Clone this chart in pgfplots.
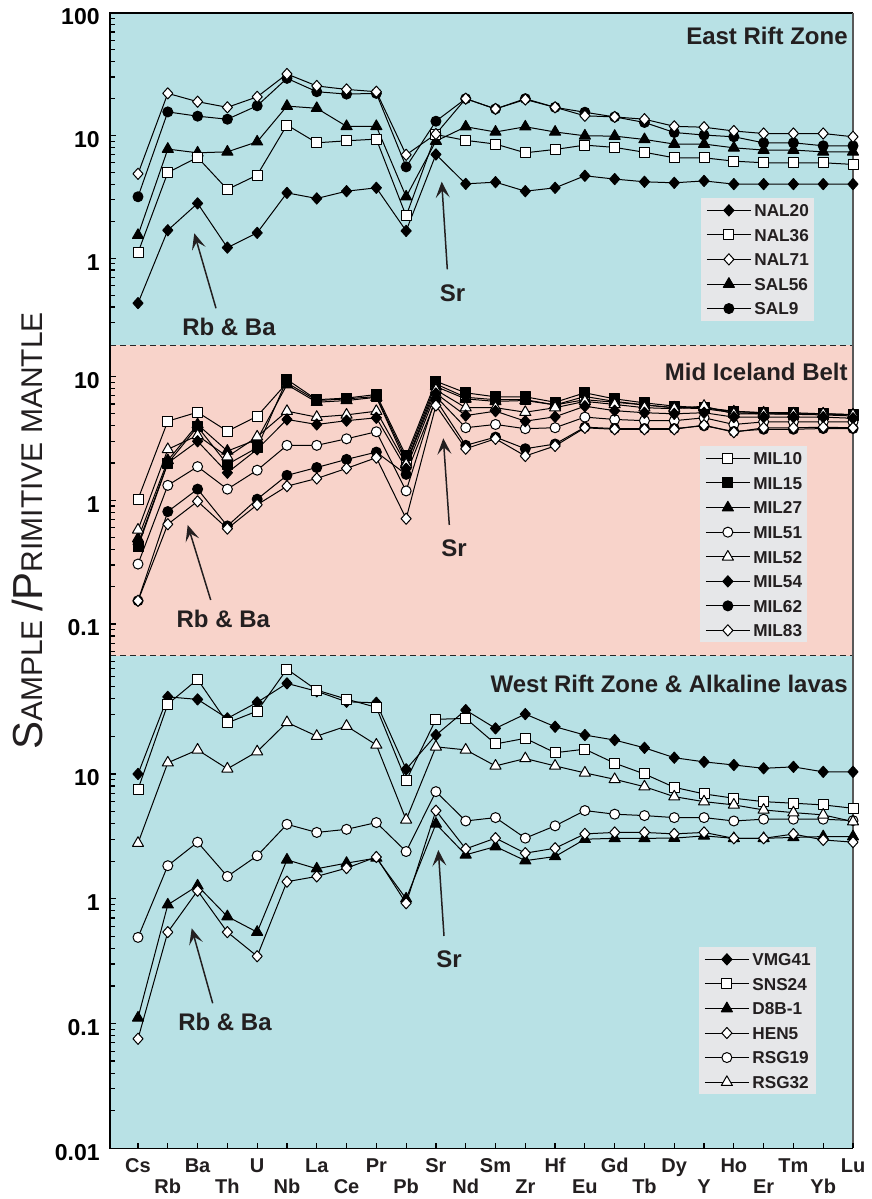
\documentclass[border=0pt]{standalone}
\usepackage{fontspec}
\setmainfont{Liberation Sans}
\usepackage{pgfplots}
\pgfplotsset{compat=1.18}
\usetikzlibrary{arrows.meta}

\definecolor{cyanbg}{HTML}{B8E1E5}
\definecolor{pinkbg}{HTML}{F8D3CA}
\definecolor{legbg}{HTML}{E6E7E9}
\definecolor{txt}{HTML}{231F20}

\newcommand\tickfont{\fontsize{11.5pt}{12pt}\selectfont\bfseries}
\newcommand\elfont{\fontsize{10pt}{10pt}\selectfont\bfseries}
\newcommand\legfont{\fontsize{8.6pt}{9pt}\selectfont\bfseries}
\newcommand\titfont{\fontsize{12pt}{12pt}\selectfont\bfseries}
\newcommand\ylbig{\fontsize{21pt}{21pt}\selectfont}
\newcommand\ylsml{\fontsize{15pt}{15pt}\selectfont}
\newcommand\LE[1]{{\legfont\textbf{#1}}}

\pgfplotsset{
  mk/.style={black, line width=0.5pt, line join=round},
  fdia/.style={mk, mark=diamond*, mark size=2.8pt, mark options={solid, draw=black, fill=black, line width=0.5pt, xscale=1.2}},
  odia/.style={mk, mark=diamond*, mark size=2.8pt, mark options={solid, draw=black, fill=white, line width=0.5pt, xscale=1.2}},
  osq/.style={mk, mark=square*, mark size=2.5pt, mark options={solid, draw=black, fill=white, line width=0.5pt}},
  fsq/.style={mk, mark=square*, mark size=2.5pt, mark options={solid, draw=black, fill=black, line width=0.5pt}},
  ftri/.style={mk, mark=triangle*, mark size=3.2pt, mark options={solid, draw=black, fill=black, line width=0.5pt}},
  otri/.style={mk, mark=triangle*, mark size=3.2pt, mark options={solid, draw=black, fill=white, line width=0.5pt}},
  fcir/.style={mk, mark=*, mark size=2.5pt, mark options={solid, draw=black, fill=black, line width=0.5pt}},
  ocir/.style={mk, mark=*, mark size=2.5pt, mark options={solid, draw=black, fill=white, line width=0.5pt}},
  legend image code/.code={\draw[mark repeat=2, mark phase=2, #1] plot coordinates {(0pt,0pt) (11pt,0pt) (22pt,0pt)};},
}
\pgfplotsset{
  scale only axis, width=371.5pt, xmin=-0.94, xmax=24,
  axis line style={draw=none},
  ytick pos=left, xtick pos=bottom,
  tick style={black, line width=0.6pt},
  major tick length=2.8pt, minor tick length=2.3pt,
  yticklabel style={font=\tickfont, text=black, anchor=east, inner sep=0pt, xshift=-5pt, yshift=-2pt},
  clip=false,
  legend cell align=left,
  legend style={fill=legbg, draw=none, font=\legfont, text=txt, inner xsep=2.5pt, inner ysep=2.9pt,
    row sep=6.05pt, column sep=1.5pt, anchor=north west,
    nodes={font=\legfont, text=txt, inner sep=0pt, text height=6.2pt, text depth=0pt}},
}

\begin{document}
\begin{tikzpicture}
\path[use as bounding box] (0,0) rectangle (436pt,599.5pt);

% panel backgrounds, frame and separators (pixel coordinates)
\begin{scope}[x=0.5pt, y=-0.5pt, yshift=599.5pt]
  \fill[cyanbg] (110,13) rectangle (853,345.5);
  \fill[pinkbg] (110,345.5) rectangle (853,656);
  \fill[cyanbg] (110,656) rectangle (853,1148.3);
  \draw[black!85, line width=0.5pt, dash pattern=on 3pt off 2pt] (110,345.5) -- (853,345.5);
  \draw[black!85, line width=0.5pt, dash pattern=on 3pt off 2pt] (110,656) -- (853,656);
  \draw[black, line width=0.7pt] (853,13) -- (110,13) -- (110,1148.3) -- (853,1148.3);
  \draw[black!65, line width=0.7pt] (853,13) -- (853,1148.3);
\end{scope}

%================ East Rift Zone =================
\begin{semilogyaxis}[anchor=south west, at={(55pt,427pt)}, height=166pt,
  ymin=0.196, ymax=100,
  ytick={1,10,100}, yticklabels={1,10,100},
  minor ytick={0.3,0.4,0.5,0.6,0.7,0.8,0.9,2,3,4,5,6,7,8,9,20,30,40,50,60,70,80,90},
  xtick=\empty,
  legend style={at={(0.7954,0.4428)}}]
\addlegendimage{fdia}\addlegendentry{\LE{NAL20}}
\addlegendimage{osq}\addlegendentry{\LE{NAL36}}
\addlegendimage{odia}\addlegendentry{\LE{NAL71}}
\addlegendimage{ftri}\addlegendentry{\LE{SAL56}}
\addlegendimage{fcir}\addlegendentry{\LE{SAL9}}
% SAL9
\addplot[fcir, forget plot] table[x expr=\coordindex, y index=0, header=false, row sep=\\]
{3.17\\15.6\\14.4\\13.6\\17.5\\29.3\\22.8\\21.8\\22.1\\5.56\\13.1\\20.0\\16.5\\20.0\\17.0\\15.5\\14.2\\12.8\\10.6\\10.1\\9.78\\8.73\\8.73\\8.26\\8.26\\};
% SAL56
\addplot[ftri, forget plot] table[x expr=\coordindex, y index=0, header=false, row sep=\\]
{1.54\\7.76\\7.24\\7.37\\8.9\\17.4\\16.7\\11.9\\11.9\\3.17\\9.02\\11.8\\10.7\\11.8\\10.7\\9.96\\9.9\\9.3\\8.53\\8.53\\7.95\\7.62\\7.62\\7.37\\7.37\\};
% NAL36
\addplot[osq, forget plot] table[x expr=\coordindex, y index=0, header=false, row sep=\\]
{1.11\\5.0\\6.64\\3.64\\4.76\\12.2\\8.73\\9.07\\9.36\\2.21\\10.2\\9.14\\8.53\\7.24\\7.71\\8.36\\8.01\\7.31\\6.59\\6.59\\6.19\\6.0\\6.0\\6.0\\5.82\\};
% NAL20
\addplot[fdia, forget plot] table[x expr=\coordindex, y index=0, header=false, row sep=\\]
{0.43\\1.69\\2.8\\1.22\\1.61\\3.41\\3.07\\3.52\\3.75\\1.67\\7.02\\4.04\\4.17\\3.52\\3.75\\4.7\\4.42\\4.2\\4.12\\4.27\\4.02\\4.02\\4.02\\4.02\\4.02\\};
% NAL71
\addplot[odia, forget plot] table[x expr=\coordindex, y index=0, header=false, row sep=\\]
{4.88\\22.1\\18.9\\17.0\\20.7\\31.8\\25.4\\23.8\\22.8\\6.97\\10.3\\20.0\\16.5\\19.7\\17.0\\14.5\\14.2\\13.6\\11.9\\11.7\\10.9\\10.4\\10.4\\10.4\\9.78\\};
\end{semilogyaxis}

%================ Mid Iceland Belt =================
\begin{semilogyaxis}[anchor=south west, at={(55pt,271.5pt)}, height=155.5pt,
  ymin=0.0551, ymax=18,
  ytick={0.1,1,10}, yticklabels={0.1,1,10},
  minor ytick={0.06,0.07,0.08,0.09,0.2,0.3,0.4,0.5,0.6,0.7,0.8,0.9,2,3,4,5,6,7,8,9},
  xtick=\empty,
  legend style={at={(0.794,0.675)}}]
\addplot[osq] table[x expr=\coordindex, y index=0, header=false, row sep=\\]
{1.02\\4.36\\5.15\\3.62\\4.78\\8.9\\6.4\\6.6\\6.9\\2.15\\8.7\\6.8\\6.5\\6.5\\5.9\\6.9\\6.3\\5.9\\5.6\\5.5\\5.1\\5.0\\4.95\\4.9\\4.8\\};
\addlegendentry{\LE{MIL10}}
\addplot[fsq] table[x expr=\coordindex, y index=0, header=false, row sep=\\]
{0.42\\1.99\\3.93\\1.95\\2.66\\9.46\\6.5\\6.7\\7.16\\2.28\\9.16\\7.39\\6.86\\6.86\\6.2\\7.39\\6.6\\6.13\\5.77\\5.6\\5.25\\5.1\\5.1\\5.0\\4.94\\};
\addlegendentry{\LE{MIL15}}
\addplot[ftri] table[x expr=\coordindex, y index=0, header=false, row sep=\\]
{0.49\\2.1\\4.1\\2.5\\3.1\\8.6\\6.2\\6.4\\6.8\\2.0\\8.3\\6.6\\6.3\\6.4\\5.9\\6.5\\6.2\\5.9\\5.6\\5.6\\5.2\\5.1\\5.0\\5.0\\4.9\\};
\addlegendentry{\LE{MIL27}}
\addplot[ocir] table[x expr=\coordindex, y index=0, header=false, row sep=\\]
{0.305\\1.32\\1.87\\1.23\\1.75\\2.78\\2.78\\3.14\\3.58\\1.19\\6.9\\3.86\\4.1\\3.79\\3.86\\4.7\\4.5\\4.4\\4.4\\4.64\\4.1\\4.3\\4.3\\4.3\\4.3\\};
\addlegendentry{\LE{MIL51}}
\addplot[otri] table[x expr=\coordindex, y index=0, header=false, row sep=\\]
{0.576\\2.58\\3.34\\2.25\\3.26\\5.25\\4.7\\4.9\\5.25\\1.95\\7.8\\5.6\\5.6\\5.15\\5.6\\6.3\\5.95\\5.6\\5.5\\5.77\\5.0\\5.0\\5.0\\5.0\\4.9\\};
\addlegendentry{\LE{MIL52}}
\addplot[fdia] table[x expr=\coordindex, y index=0, header=false, row sep=\\]
{0.44\\2.0\\3.0\\1.67\\2.58\\4.5\\4.1\\4.4\\4.64\\1.8\\7.3\\4.84\\5.25\\4.36\\4.73\\5.76\\5.3\\5.1\\5.0\\5.1\\4.7\\4.7\\4.7\\4.7\\4.6\\};
\addlegendentry{\LE{MIL54}}
\addplot[fcir] table[x expr=\coordindex, y index=0, header=false, row sep=\\]
{0.154\\0.81\\1.23\\0.62\\1.02\\1.59\\1.84\\2.14\\2.45\\1.62\\6.5\\2.78\\3.24\\2.61\\2.85\\3.9\\3.8\\3.8\\3.8\\4.0\\3.6\\3.75\\3.75\\3.8\\3.8\\};
\addlegendentry{\LE{MIL62}}
\addplot[odia] table[x expr=\coordindex, y index=0, header=false, row sep=\\]
{0.154\\0.64\\0.98\\0.59\\0.92\\1.3\\1.5\\1.81\\2.21\\0.71\\5.84\\2.61\\3.14\\2.28\\2.75\\3.85\\3.75\\3.75\\3.75\\4.05\\3.55\\3.85\\3.85\\3.9\\3.85\\};
\addlegendentry{\LE{MIL83}}
\end{semilogyaxis}

%================ West Rift Zone =================
\begin{semilogyaxis}[anchor=south west, at={(55pt,25.35pt)}, height=246.15pt,
  ymin=0.01, ymax=88.2,
  ytick={0.01,0.1,1,10}, yticklabels={0.01,0.1,1,10},
  minor ytick={0.02,0.03,0.04,0.05,0.06,0.07,0.08,0.09,0.2,0.3,0.4,0.5,0.6,0.7,0.8,0.9,2,3,4,5,6,7,8,9,20,30,40,50,60,70,80},
  xtick={0,2,...,24},
  xticklabels={Cs,Ba,U,La,Pr,Sr,Sm,Hf,Gd,Dy,Ho,Tm,Lu},
  extra x ticks={1,3,...,23},
  extra x tick labels={Rb,Th,Nb,Ce,Pb,Nd,Zr,Eu,Tb,Y,Er,Yb},
  xticklabel style={font=\elfont, text=txt, anchor=base, inner sep=0pt, yshift=-12.2pt},
  extra x tick style={xticklabel style={yshift=-10.15pt}},
  legend style={at={(0.7927,0.409)}}]
\addplot[fdia] table[x expr=\coordindex, y index=0, header=false, row sep=\\]
{10\\41.5\\39.6\\27.9\\37.5\\53.2\\46\\37.9\\37.2\\10.9\\20.5\\32.5\\23.2\\30.2\\23.9\\20.5\\18.7\\16.2\\13.5\\12.5\\11.8\\11.1\\11.4\\10.4\\10.4\\};
\addlegendentry{\LE{VMG41}}
\addplot[osq] table[x expr=\coordindex, y index=0, header=false, row sep=\\]
{7.54\\36.3\\57.3\\25.7\\31.9\\69.2\\47\\39.8\\34.2\\8.85\\27.4\\27.9\\17.4\\19.3\\14.8\\15.8\\12.2\\10\\7.82\\6.92\\6.39\\6.0\\5.83\\5.65\\5.31\\};
\addlegendentry{\LE{SNS24}}
\addplot[ftri] table[x expr=\coordindex, y index=0, header=false, row sep=\\]
{0.111\\0.895\\1.27\\0.72\\0.54\\2.05\\1.74\\1.93\\2.12\\1.0\\3.98\\2.25\\2.62\\2.02\\2.18\\3.0\\3.05\\3.05\\3.06\\3.19\\3.05\\3.05\\3.1\\3.15\\3.15\\};
\addlegendentry{\LE{D8B-1}}
\addplot[odia] table[x expr=\coordindex, y index=0, header=false, row sep=\\]
{0.0755\\0.54\\1.16\\0.54\\0.346\\1.37\\1.51\\1.76\\2.16\\0.92\\5.08\\2.51\\3.06\\2.32\\2.54\\3.31\\3.4\\3.4\\3.31\\3.4\\3.05\\3.05\\3.3\\2.96\\2.84\\};
\addlegendentry{\LE{HEN5}}
\addplot[ocir] table[x expr=\coordindex, y index=0, header=false, row sep=\\]
{0.49\\1.84\\2.84\\1.51\\2.21\\3.95\\3.4\\3.6\\4.08\\2.39\\7.22\\4.2\\4.47\\3.06\\3.84\\5.09\\4.76\\4.64\\4.47\\4.47\\4.2\\4.34\\4.34\\4.34\\4.23\\};
\addlegendentry{\LE{RSG19}}
\addplot[otri] table[x expr=\coordindex, y index=0, header=false, row sep=\\]
{2.79\\12.3\\15.6\\11.0\\15.1\\25.9\\20.1\\24.2\\17.1\\4.29\\16.5\\15.6\\11.6\\13.3\\11.6\\10.2\\9.06\\7.91\\6.58\\6.0\\5.65\\5.15\\4.9\\4.7\\4.15\\};
\addlegendentry{\LE{RSG32}}
\end{semilogyaxis}

% titles, annotations, axis label (pixel coordinates)
\begin{scope}[x=0.5pt, y=-0.5pt, yshift=599.5pt]
  \begin{scope}[every node/.style={inner sep=0pt, text=txt, font=\titfont}]
    \node[anchor=base east] at (848,45) {East Rift Zone};
    \node[anchor=base east] at (848,380.7) {Mid Iceland Belt};
    \node[anchor=base east] at (848,692.7) {West Rift Zone \& Alkaline lavas};
    \node[anchor=base] at (229,335.5) {Rb \& Ba};
    \node[anchor=base] at (452.5,301.7) {Sr};
    \node[anchor=base] at (223.3,627.3) {Rb \& Ba};
    \node[anchor=base] at (454,556.7) {Sr};
    \node[anchor=base] at (225,1030.7) {Rb \& Ba};
    \node[anchor=base] at (449,967.3) {Sr};
  \end{scope}
  \begin{scope}[txt, line width=0.75pt, -{Stealth[length=8pt, width=7pt, inset=3.5pt]}]
    \draw (216,308.3) -- (194.3,233.3);
    \draw (447.3,269.3) -- (441.7,181.7);
    \draw (210.7,600) -- (187.7,525);
    \draw (449.3,525) -- (443.3,438.3);
    \draw (212.7,1003.3) -- (191.7,928.3);
    \draw (444,936) -- (438.3,850);
  \end{scope}
  \node[rotate=90, anchor=base, inner sep=0pt, text=txt] at (42,531)
    {{\ylbig S}{\ylsml AMPLE }{\ylbig /P}{\ylsml RIMITIVE MANTLE}};
\end{scope}
\end{tikzpicture}
\end{document}
